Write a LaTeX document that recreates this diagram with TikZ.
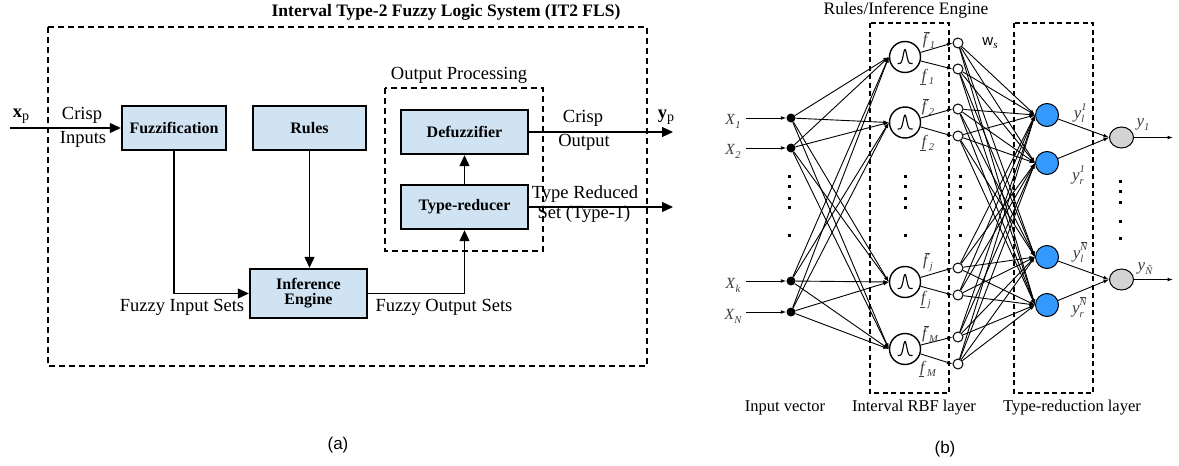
\documentclass[tikz,border=0pt]{standalone}
\usepackage{fontspec}
\setmainfont{Liberation Serif}
\newfontfamily\arialf{Liberation Sans}
\usetikzlibrary{arrows.meta,shapes.geometric}
\definecolor{boxblue}{RGB}{207,227,243}
\definecolor{nodeblue}{RGB}{51,153,255}
\definecolor{nodegrey}{RGB}{211,211,211}
\definecolor{lblgrey}{RGB}{60,60,60}
\newcommand\fsz[1]{\fontsize{#1}{#1}\selectfont}
\newcommand\lowsub[1]{\raisebox{-4pt}{\fsz{10.5}\itshape #1}}
\newcommand\xlab[2]{\textit{#1}\lowsub{#2}}
\newcommand\fover[1]{\makebox[0pt][l]{\hspace{1.5pt}\raisebox{12pt}{\rule{5.5pt}{0.7pt}}}\textit{f}\kern0.5pt\lowsub{#1}}
\newcommand\funder[1]{\makebox[0pt][l]{\hspace{-1.5pt}\raisebox{-5pt}{\rule{5.5pt}{0.7pt}}}\textit{f}\kern0.5pt\lowsub{#1}}
\newcommand\ylab[2]{\textit{y}\makebox[0pt][l]{\raisebox{8pt}{\fsz{10.5}\itshape #1}}\raisebox{-4pt}{\fsz{10.5}\itshape #2}}
\newcommand\Nbar{\makebox[0pt][l]{\hspace{0.5pt}\raisebox{8pt}{\rule{6pt}{0.5pt}}}N}
\begin{document}
\begin{tikzpicture}[x=1pt,y=-1pt,
  fbox/.style={draw, line width=2.4pt, fill=boxblue, inner sep=0pt, font=\fsz{16}\bfseries, align=center},
  dbox/.style={draw, line width=2pt, dash pattern=on 6pt off 4pt},
  arrA/.style={line width=1.2pt, -{Triangle[length=11pt,width=10pt]}},
  lblA/.style={font=\fsz{18.5}, inner sep=0pt},
  lblB/.style={font=\fsz{16.5}, inner sep=0pt},
  glbl/.style={font=\fsz{15.5}, text=lblgrey, inner sep=0pt},
  ylb/.style={font=\fsz{17}, text=lblgrey, inner sep=0pt},
  innode/.style={circle, fill=black, minimum size=9pt, inner sep=0pt},
  rbfnode/.style={circle, draw, line width=1.4pt, fill=white, minimum size=31pt, inner sep=0pt},
  wnode/.style={circle, draw, line width=1pt, fill=white, minimum size=10pt, inner sep=0pt},
  bnode/.style={circle, draw, line width=1pt, fill=nodeblue, minimum size=23pt, inner sep=0pt},
  gnode/.style={ellipse, draw, line width=1pt, fill=nodegrey, minimum width=24pt, minimum height=21pt, inner sep=0pt},
  arrB/.style={line width=0.9pt, -{Latex[length=5.5pt,width=3.8pt]}},
  dotsq/.style={fill=black, minimum size=3pt, inner sep=0pt},
]
\useasboundingbox (0,0) rectangle (1179,466);

% ================= (a) =================
\node[font=\fsz{17.5}\bfseries, inner sep=0pt] (title) at (446,12) {Interval Type-2 Fuzzy Logic System (IT2 FLS)};
\draw[dbox] (48,27) rectangle (647,366);
\node[lblA] (optitle) at (459,75) {Output Processing};
\draw[dbox] (385,88) rectangle (543,251);

\node[fbox, minimum width=104pt, minimum height=44pt] (fuz) at (174,128) {Fuzzification};
\node[fbox, minimum width=113pt, minimum height=44pt] (rul) at (309.5,128) {Rules};
\node[fbox, minimum width=127pt, minimum height=44pt] (def) at (464.5,132) {Defuzzifier};
\node[fbox, minimum width=127pt, minimum height=44pt] (tr) at (464.5,207) {Type-reducer};
\node[fbox, minimum width=117pt, minimum height=49pt] (inf) at (308.5,293.5) {Inference\\[-1pt]Engine};

\coordinate (xin) at (10,128);
\coordinate (yout) at (673,132);
\coordinate (trout) at (673,207);
\draw[arrA] (xin) -- (fuz.west);
\draw[arrA] (fuz.south) |- (inf.west);
\draw[arrA] (rul.south) -- (rul.south |- inf.north);
\draw[arrA] (inf.east) -| (tr.south);
\draw[arrA] (tr.north) -- (def.south);
\draw[arrA] (def.east) -- (yout);
\draw[arrA] (tr.east) -- (trout);

\node[lblA] (xp) at (21,116) {\textbf{x}\raisebox{-3pt}{\fsz{14}p}};
\node[lblA] (ci1) at (82,115.5) {Crisp};
\node[lblA] (ci2) at (83,139.5) {Inputs};
\node[lblA] (co1) at (583,118) {Crisp};
\node[lblA] (co2) at (584,142) {Output};
\node[lblA] (yp) at (666,117) {\textbf{y}\raisebox{-3pt}{\fsz{14}p}};
\node[lblA] (trs1) at (585,194) {Type Reduced};
\node[lblA] (trs2) at (584,214) {Set (Type-1)};
\node[lblA] (fis) at (182,307) {Fuzzy Input Sets};
\node[lblA] (fos) at (444,307) {Fuzzy Output Sets};
\node[font=\arialf\fsz{17}, inner sep=0pt] (capa) at (338,445) {(a)};

% ================= (b) =================
\node[font=\fsz{17.5}, inner sep=0pt] (rie) at (906,10) {Rules/Inference Engine};
\draw[dbox, line width=1.9pt, dash pattern=on 5pt off 3.5pt] (870,23) rectangle (949,393);
\draw[dbox, line width=1.9pt, dash pattern=on 5pt off 3.5pt] (1014,23) rectangle (1093,393);

% input nodes
\node[innode] (i1) at (791,118) {};
\node[innode] (i2) at (791,148) {};
\node[innode] (i3) at (791,281) {};
\node[innode] (i4) at (791,312) {};
\node[glbl] (x1) at (733,121) {\xlab{X}{1}};
\node[glbl] (x2) at (733,151) {\xlab{X}{2}};
\node[glbl] (x3) at (733,285) {\xlab{X}{k}};
\node[glbl] (x4) at (733,316) {\xlab{X}{N}};
\foreach \k in {1,...,4} {
  \draw[arrB] (i\k.west) ++(-40,0) coordinate (xs\k) -- (i\k.west);
}

% rbf nodes
\node[rbfnode] (r1) at (905,57) {};
\node[rbfnode] (r2) at (905,122.5) {};
\node[rbfnode] (r3) at (905,282) {};
\node[rbfnode] (r4) at (905,349) {};
\foreach \k in {1,...,4} {
  \draw[line width=1.1pt, shift={(r\k)}] plot[domain=-7.5:7.5, samples=40, smooth] (\x, {6.5 - 14*exp(-\x*\x/6)});
}

% weight nodes
\node[wnode] (w1) at (958,43) {};
\node[wnode] (w2) at (958,69) {};
\node[wnode] (w3) at (958,109) {};
\node[wnode] (w4) at (958,136) {};
\node[wnode] (w5) at (958,268) {};
\node[wnode] (w6) at (958,295) {};
\node[wnode] (w7) at (958,337) {};
\node[wnode] (w8) at (958,364) {};

% type reduction nodes
\node[bnode] (b1) at (1047,115) {};
\node[bnode] (b2) at (1047,163) {};
\node[bnode] (b3) at (1047,257) {};
\node[bnode] (b4) at (1047,305) {};
\node[gnode] (g1) at (1121.5,137.5) {};
\node[gnode] (g2) at (1121.5,279.5) {};
\coordinate (o1) at (1173,137.5);
\coordinate (o2) at (1173,279.5);

% connections
\foreach \a in {1,...,4} {
  \foreach \r in {1,...,4} {
    \draw[arrB] (i\a) -- (r\r.west);
  }
}
\foreach \r/\p/\q in {1/1/2,2/3/4,3/5/6,4/7/8} {
  \draw[arrB] (r\r) -- (w\p.west);
  \draw[arrB] (r\r) -- (w\q.west);
}
\foreach \w in {1,...,8} {
  \foreach \b in {1,...,4} {
    \draw[arrB] (w\w) -- (b\b.west);
  }
}
\draw[arrB] (b1) -- (g1.west);
\draw[arrB] (b2) -- (g1.west);
\draw[arrB] (b3) -- (g2.west);
\draw[arrB] (b4) -- (g2.west);
\draw[arrB] (g1) -- (o1);
\draw[arrB] (g2) -- (o2);

% vertical dots
\foreach \yy in {176,186,198,207,235} {
  \node[dotsq] at (789,\yy) {};
  \node[dotsq] at (905,\yy) {};
  \node[dotsq] at (960,\yy) {};
}
\foreach \yy in {181,191,202,221,238} {
  \node[dotsq] at (1120,\yy) {};
}

% f labels
\node[glbl, font=\fsz{16}] (fo1) at (929,40) {\fover{1}};
\node[glbl, font=\fsz{16}] (fu1) at (928,77) {\funder{1}};
\node[glbl, font=\fsz{16}] (fo2) at (928,107) {\fover{2}};
\node[glbl, font=\fsz{16}] (fu2) at (928,143) {\funder{2}};
\node[glbl, font=\fsz{16}] (fo3) at (928,262) {\fover{j}};
\node[glbl, font=\fsz{16}] (fu3) at (926,300) {\funder{j}};
\node[glbl, font=\fsz{16}] (fo4) at (930,334) {\fover{M}};
\node[glbl, font=\fsz{16}] (fu4) at (928,369) {\funder{M}};

\node[inner sep=0pt] (ws) at (990,43) {{\arialf\fsz{15}w}\raisebox{-3pt}{\fsz{11}\itshape s}};

% y labels
\node[ylb] (yl1) at (1079,113) {\ylab{1}{l}};
\node[ylb] (yr1) at (1078,175) {\ylab{1}{r}};
\node[ylb] (ylN) at (1078,252) {\ylab{\Nbar}{l}};
\node[ylb] (yrN) at (1078,307) {\ylab{\Nbar}{r}};
\node[ylb] (y1) at (1143,125) {\textit{y}\lowsub{1}};
\node[ylb] (yN) at (1145,269) {\textit{y}\lowsub{Ñ}};

\node[lblB] (iv) at (785,408) {Input vector};
\node[lblB] (irl) at (914,408) {Interval RBF layer};
\node[lblB] (trl) at (1072,408) {Type-reduction layer};
\node[font=\arialf\fsz{17}, inner sep=0pt] (capb) at (945,449) {(b)};
\end{tikzpicture}
\end{document}
